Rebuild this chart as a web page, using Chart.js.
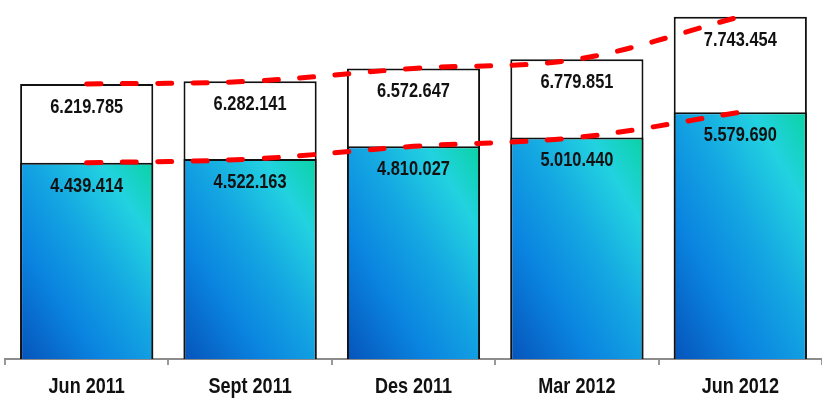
<!DOCTYPE html>
<html>
<head>
<meta charset="utf-8">
<script src="https://cdn.jsdelivr.net/npm/chart.js@4.4.1/dist/chart.umd.min.js"></script>
<style>
  html, body { margin: 0; padding: 0; background: #fff; }
  #grafico { display: block; }
</style>
</head>
<body>
<canvas id="grafico" width="822" height="404"></canvas>
<script>
const periodos = ['Jun 2011', 'Sept 2011', 'Des 2011', 'Mar 2012', 'Jun 2012'];
const totales = [6219785, 6282141, 6572647, 6779851, 7743454];
const parciales = [4439414, 4522163, 4810027, 5010440, 5579690];

const fuente = "'Liberation Sans', Arial, sans-serif";
const anchoBarra = 0.815;
const estrecho = 0.82; // simula Arial Narrow

function fmt(v) {
  return v.toString().replace(/\B(?=(\d{3})+(?!\d))/g, '.');
}

// degradado diagonal por barra (oscuro abajo-izq, turquesa arriba-der)
function degradado(c) {
  const ch = c.chart;
  if (!ch.chartArea || c.dataIndex === undefined) return '#0a88e4';
  const xs = ch.scales.x, ys = ch.scales.y;
  const cx = xs.getPixelForValue(c.dataIndex);
  const w = xs.width / periodos.length * anchoBarra;
  const top = ys.getPixelForValue(c.raw);
  const bot = ys.getPixelForValue(0);
  const h = bot - top;
  const cy = (top + bot) / 2;
  const t = w * h / (w * w + h * h);
  const g = ch.ctx.createLinearGradient(cx - t * h, cy + t * w, cx + t * h, cy - t * w);
  g.addColorStop(0, '#0654ba');
  g.addColorStop(0.3, '#0a84e0');
  g.addColorStop(0.55, '#14a6e2');
  g.addColorStop(0.8, '#22d2e0');
  g.addColorStop(1, '#0ad3a4');
  return g;
}

function textoEstrecho(ctx, txt, x, y) {
  ctx.save();
  ctx.translate(x, y);
  ctx.scale(estrecho, 1);
  ctx.fillText(txt, 0, 0);
  ctx.restore();
}

const etiquetas = {
  id: 'etiquetas',
  afterDatasetsDraw(chart) {
    const ctx = chart.ctx;
    ctx.save();
    ctx.fillStyle = '#111';
    ctx.textAlign = 'center';
    ctx.textBaseline = 'alphabetic';
    ctx.font = 'bold 20px ' + fuente;
    [1, 2].forEach((di) => {
      const meta = chart.getDatasetMeta(di);
      const vals = chart.data.datasets[di].data;
      meta.data.forEach((el, i) => {
        textoEstrecho(ctx, fmt(vals[i]), el.x, el.y + 29);
      });
    });
    // etiquetas del eje x
    const xs = chart.scales.x;
    ctx.font = 'bold 22px ' + fuente;
    chart.data.labels.forEach((lab, i) => {
      textoEstrecho(ctx, lab, xs.getPixelForTick(i), xs.top + 34);
    });
    ctx.restore();
  }
};

const lineaRoja = {
  type: 'line',
  borderColor: '#ff0000',
  borderWidth: 5,
  borderDash: [14, 21.5],
  borderCapStyle: 'round',
  pointRadius: 0,
  tension: 0.35,
  order: 0
};

new Chart(document.getElementById('grafico'), {
  type: 'bar',
  data: {
    labels: periodos,
    datasets: [
      Object.assign({ data: parciales }, lineaRoja),
      {
        data: totales,
        backgroundColor: '#ffffff',
        borderColor: '#111',
        borderWidth: 2,
        grouped: false,
        barPercentage: anchoBarra,
        categoryPercentage: 1,
        order: 3
      },
      {
        data: parciales,
        backgroundColor: degradado,
        borderColor: '#111',
        borderWidth: 2,
        grouped: false,
        barPercentage: anchoBarra,
        categoryPercentage: 1,
        order: 2
      },
      Object.assign({ data: totales }, lineaRoja)
    ]
  },
  options: {
    animation: false,
    responsive: false,
    layout: { padding: { left: 5, right: 0, top: 0, bottom: 39 } },
    plugins: {
      legend: { display: false },
      tooltip: { enabled: false }
    },
    scales: {
      x: {
        offset: true,
        grid: {
          offset: true,
          drawOnChartArea: false,
          drawTicks: true,
          tickLength: 6,
          color: '#999',
          lineWidth: 2
        },
        border: { color: '#8c8c8c', width: 2 },
        ticks: { display: false }
      },
      y: {
        display: false,
        min: 0,
        max: 8120000
      }
    }
  },
  plugins: [etiquetas]
});
</script>
</body>
</html>
